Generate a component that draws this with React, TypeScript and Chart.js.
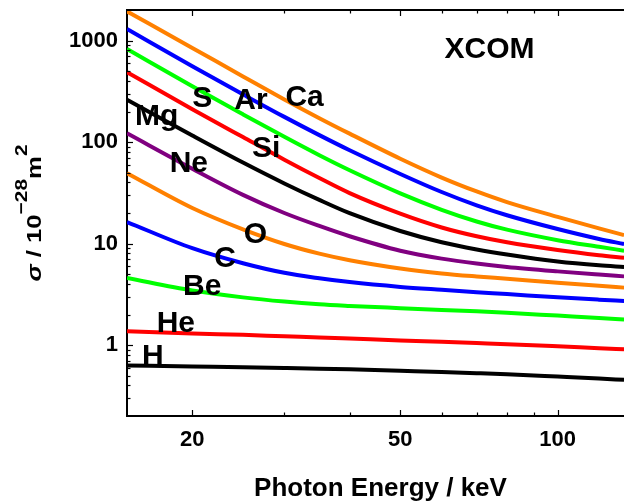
import React, { useEffect, useRef } from "react";
import { Chart, registerables } from "chart.js";

Chart.register(...registerables);

// Photon energies (keV) at which the curves were read
const energies = [15, 20, 25, 30, 35, 40, 50, 60, 70, 80, 100, 120, 134];

// Cross sections (10^-28 m^2) per element
const sigmaH = [0.63, 0.615, 0.604, 0.594, 0.585, 0.576, 0.557, 0.542, 0.528, 0.515, 0.489, 0.468, 0.454];
const sigmaHe = [1.37, 1.3, 1.26, 1.22, 1.19, 1.16, 1.11, 1.075, 1.045, 1.02, 0.971, 0.93, 0.907];
const sigmaBe = [4.59, 3.45, 2.95, 2.68, 2.52, 2.43, 2.31, 2.22, 2.15, 2.08, 1.95, 1.85, 1.79];
const sigmaC = [16.3, 9.0, 6.4, 5.15, 4.55, 4.17, 3.74, 3.5, 3.32, 3.18, 2.95, 2.8, 2.72];
const sigmaO = [49.4, 22.4, 13.8, 9.9, 7.95, 6.85, 5.68, 5.08, 4.74, 4.5, 4.11, 3.83, 3.68];
const sigmaNe = [122, 54.6, 30.2, 20.0, 14.9, 11.8, 8.5, 7.1, 6.35, 5.88, 5.32, 4.95, 4.75];
const sigmaMg = [261, 116, 62.8, 39.1, 26.9, 19.9, 13.3, 10.3, 8.75, 7.8, 6.65, 6.1, 5.88];
const sigmaSi = [487, 211, 112, 67.0, 44.2, 31.4, 19.7, 14.4, 11.8, 10.3, 8.65, 7.68, 7.23];
const sigmaS = [828, 354, 187.5, 112.5, 74.1, 52.7, 31.2, 21.5, 16.5, 13.7, 10.8, 9.29, 8.51];
const sigmaAr = [1300, 557, 295, 177, 117, 83.0, 48.5, 32.2, 23.8, 19.0, 13.9, 11.1, 9.9];
const sigmaCa = [1937, 846, 443, 263, 172, 121, 68.5, 44.7, 32.6, 25.6, 18.3, 14.1, 12.1];

const elementNames = ["H", "He", "Be", "C", "O", "Ne", "Mg", "Si", "S", "Ar", "Ca"];
const elementSeries = [sigmaH, sigmaHe, sigmaBe, sigmaC, sigmaO, sigmaNe, sigmaMg, sigmaSi, sigmaS, sigmaAr, sigmaCa];
const elementColors = ["#000000", "#ff0000", "#00ff00", "#0000ff", "#ff8000", "#800080", "#000000", "#ff0000", "#00ff00", "#0000ff", "#ff8000"];

// Label anchor positions in data coordinates (keV, sigma): text centre / baseline
const labelEnergy = [16.8, 18.6, 20.9, 23.1, 26.4, 19.7, 17.1, 27.7, 20.9, 25.9, 32.8];
const labelSigma = [0.636, 1.34, 3.1, 5.85, 10.07, 50.2, 146, 70.6, 219, 214, 229];
const noteText = "XCOM";
const noteEnergy = 74.1;
const noteSigma = 679;

// Axis ranges and ticks
const xMin = 15;
const xMax = 140;
const yMin = 0.2;
const yMax = 2000;
const xMajorTicks = [20, 50, 100];
const xMinorTicks = [30, 40, 60, 70, 80, 90];
const yMajorTicks = [1, 10, 100, 1000];
const yMinorTicks = [
  0.3, 0.4, 0.5, 0.6, 0.7, 0.8, 0.9,
  2, 3, 4, 5, 6, 7, 8, 9,
  20, 30, 40, 50, 60, 70, 80, 90,
  200, 300, 400, 500, 600, 700, 800, 900,
];

const xTitle = "Photon Energy / keV";
const FONT = "'Liberation Sans', Arial, Helvetica, sans-serif";

const framePlugin = {
  id: "frameTicks",
  afterDraw(chart: any) {
    const { ctx, chartArea: a, scales } = chart;
    const xs = scales.x;
    const ys = scales.y;
    ctx.save();
    ctx.strokeStyle = "#000";
    ctx.lineWidth = 2;
    ctx.beginPath();
    ctx.moveTo(a.left - 1, a.top);
    ctx.lineTo(a.right, a.top);
    ctx.stroke();
    ctx.lineWidth = 1.2;
    const xt = (v: number, len: number) => {
      const p = Math.round(xs.getPixelForValue(v)) + 0.5;
      ctx.beginPath();
      ctx.moveTo(p, a.bottom);
      ctx.lineTo(p, a.bottom - len);
      ctx.moveTo(p, a.top);
      ctx.lineTo(p, a.top + len);
      ctx.stroke();
    };
    const yt = (v: number, len: number) => {
      const p = Math.round(ys.getPixelForValue(v)) + 0.5;
      ctx.beginPath();
      ctx.moveTo(a.left, p);
      ctx.lineTo(a.left + len, p);
      ctx.stroke();
    };
    xMajorTicks.forEach((v) => xt(v, 6));
    xMinorTicks.forEach((v) => xt(v, 3.5));
    yMajorTicks.forEach((v) => yt(v, 6));
    yMinorTicks.forEach((v) => yt(v, 3.5));
    ctx.restore();
  },
};

const labelPlugin = {
  id: "curveLabels",
  afterDatasetsDraw(chart: any) {
    const { ctx, scales } = chart;
    const xs = scales.x;
    const ys = scales.y;
    ctx.save();
    ctx.fillStyle = "#000";
    ctx.font = `bold 30px ${FONT}`;
    ctx.textAlign = "center";
    ctx.textBaseline = "alphabetic";
    elementNames.forEach((name, i) => {
      ctx.fillText(name, xs.getPixelForValue(labelEnergy[i]), ys.getPixelForValue(labelSigma[i]));
    });
    ctx.fillText(noteText, xs.getPixelForValue(noteEnergy), ys.getPixelForValue(noteSigma));
    ctx.restore();
  },
};

const yTitlePlugin = {
  id: "yTitle",
  afterDraw(chart: any) {
    const { ctx, chartArea: a } = chart;
    const parts = [
      { t: "\u03c3", f: `italic bold 21px ${FONT}`, dy: 0 },
      { t: " / 10", f: `bold 21px ${FONT}`, dy: 0 },
      { t: "\u221228", f: `bold 17px ${FONT}`, dy: -14 },
      { t: "m", f: `bold 21px ${FONT}`, dy: 0 },
      { t: "2", f: `bold 17px ${FONT}`, dy: -14 },
    ];
    ctx.save();
    ctx.fillStyle = "#000";
    ctx.textBaseline = "alphabetic";
    ctx.textAlign = "left";
    let total = 0;
    const widths = parts.map((p) => {
      ctx.font = p.f;
      const w = ctx.measureText(p.t).width;
      total += w;
      return w;
    });
    const stretch = 137 / total;
    ctx.translate(41, (a.top + a.bottom) / 2);
    ctx.rotate(-Math.PI / 2);
    ctx.scale(stretch, 1);
    let x = -total / 2;
    parts.forEach((p, i) => {
      ctx.font = p.f;
      ctx.fillText(p.t, x, p.dy);
      x += widths[i];
    });
    ctx.restore();
  },
};

export default function App() {
  const ref = useRef<HTMLCanvasElement | null>(null);

  useEffect(() => {
    if (!ref.current) return;
    const chart = new Chart(ref.current, {
      type: "line",
      data: {
        datasets: elementSeries.map((s, i) => ({
          label: elementNames[i],
          data: energies.map((e, j) => ({ x: e, y: s[j] })),
          borderColor: elementColors[i],
          backgroundColor: elementColors[i],
          borderWidth: 4,
          pointRadius: 0,
          cubicInterpolationMode: "monotone" as const,
          fill: false,
        })),
      },
      options: {
        responsive: false,
        maintainAspectRatio: false,
        animation: false,
        layout: { padding: { top: 10, left: 0, right: 0, bottom: 0 } },
        plugins: {
          legend: { display: false },
          tooltip: { enabled: false },
        },
        scales: {
          x: {
            type: "logarithmic",
            position: "bottom",
            min: xMin,
            max: xMax,
            afterBuildTicks: (s: any) => {
              s.ticks = xMajorTicks.map((v) => ({ value: v }));
            },
            afterFit: (s: any) => {
              s.height = 88;
              s.paddingLeft = 0;
              s.paddingRight = 0;
            },
            ticks: {
              callback: (v: any) => String(v),
              font: { family: FONT, size: 22, weight: "bold" },
              color: "#000",
              padding: 11,
              autoSkip: false,
              maxRotation: 0,
            },
            grid: { display: true, drawOnChartArea: false, drawTicks: false },
            border: { display: true, color: "#000", width: 2 },
            title: {
              display: true,
              text: xTitle,
              color: "#000",
              font: { family: FONT, size: 26, weight: "bold" },
              padding: 0,
            },
          },
          y: {
            type: "logarithmic",
            position: "left",
            min: yMin,
            max: yMax,
            afterBuildTicks: (s: any) => {
              s.ticks = yMajorTicks.map((v) => ({ value: v }));
            },
            afterFit: (s: any) => {
              s.width = 127;
              s.paddingTop = 0;
              s.paddingBottom = 0;
            },
            ticks: {
              callback: (v: any) => String(v),
              font: { family: FONT, size: 22, weight: "bold" },
              color: "#000",
              padding: 9,
              autoSkip: false,
            },
            grid: { display: true, drawOnChartArea: false, drawTicks: false },
            border: { display: true, color: "#000", width: 2 },
            title: { display: false },
          },
        },
      },
      plugins: [labelPlugin, framePlugin, yTitlePlugin],
    });
    return () => chart.destroy();
  }, []);

  return (
    <div
      style={{
        position: "fixed",
        left: 0,
        top: 0,
        width: 624,
        height: 504,
        overflow: "hidden",
        background: "#fff",
      }}
    >
      <canvas ref={ref} width={634} height={504} style={{ display: "block" }} />
    </div>
  );
}
